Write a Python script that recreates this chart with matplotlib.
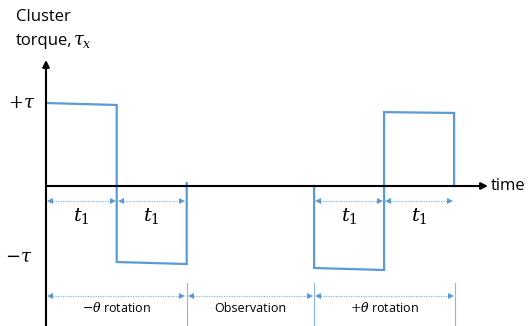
import matplotlib.pyplot as plt

plt.rcParams['font.family'] = ['Open Sans', 'DejaVu Sans']
plt.rcParams['mathtext.fontset'] = 'dejavuserif'

# waveform (time in units of t1, torque in units of tau)
pulse1_t = [0.0, 1.01, 1.01, 2.01, 2.01]
pulse1_v = [1.0, 0.976, -0.916, -0.94, 0.036]
pulse2_t = [3.83, 3.83, 4.83, 4.83, 5.83, 5.83]
pulse2_v = [0.0, -0.988, -1.012, 0.89, 0.88, 0.0]

# t1 span arrows
t1_spans = [(0.0, 1.01), (1.01, 2.01), (3.83, 4.83), (4.83, 5.83)]
# phase span arrows
phase_spans = [(0.0, 2.01), (2.01, 3.83), (3.83, 5.84)]
phase_labels = [r'$-\theta$ rotation', 'Observation', r'$+\theta$ rotation']
phase_marks = [2.01, 3.83, 5.84]

blue = '#5B9BD5'
light = '#8AB8E6'

fig = plt.figure(figsize=(5.32, 3.26), dpi=100)
ax = fig.add_axes([0, 0, 1, 1])
# 1 time unit = 70 px, 1 torque unit = 83 px, origin at (46, 186)
ax.set_xlim(-46 / 70, 486 / 70)
ax.set_ylim(-140 / 83, 186 / 83)
ax.axis('off')

# axes arrows
ax.annotate('', xy=(0, 126 / 83), xytext=(0, -140 / 83),
            arrowprops=dict(arrowstyle='-|>', color='black', lw=1.5,
                            mutation_scale=10, shrinkA=0, shrinkB=0))
ax.annotate('', xy=(442 / 70, 0), xytext=(0, 0),
            arrowprops=dict(arrowstyle='-|>', color='black', lw=1.5,
                            mutation_scale=10, shrinkA=0, shrinkB=0))
ax.text(445 / 70, 0, 'time', fontsize=12, va='center', ha='left')
ax.text(-30 / 70, 169 / 83, 'Cluster', fontsize=12, va='center', ha='left')
ax.text(-30 / 70, 145 / 83, 'torque,', fontsize=12, va='center', ha='left')
ax.text(27 / 70, 145 / 83, r'$\tau_x$', fontsize=13, va='center', ha='left')
ax.text(-24 / 70, 1.0, r'$+\tau$', fontsize=13, va='center', ha='center')
ax.text(-27 / 70, -71 / 83, r'$-\tau$', fontsize=13, va='center', ha='center')

# waveform
ax.plot(pulse1_t, pulse1_v, color=blue, lw=1.6, solid_joinstyle='miter')
ax.plot(pulse2_t, pulse2_v, color=blue, lw=1.6, solid_joinstyle='miter')


def span_arrow(x0, x1, y):
    pad = 0.06
    ax.plot([x0 + pad, x1 - pad], [y, y], color=light, lw=0.9, ls=(0, (1, 1)))
    ax.plot([x0 + pad], [y], marker='<', color=blue, ms=5, mew=0)
    ax.plot([x1 - pad], [y], marker='>', color=blue, ms=5, mew=0)


y_t1 = -15 / 83
for a, b in t1_spans:
    span_arrow(a, b, y_t1)
    ax.text((a + b) / 2, -30 / 83, '$t_1$', fontsize=14, ha='center', va='center')

y_ph = -110 / 83
for (a, b), lab in zip(phase_spans, phase_labels):
    span_arrow(a, b, y_ph)
    ax.text((a + b) / 2, -122 / 83, lab, fontsize=9, ha='center', va='center')

for m in phase_marks:
    ax.plot([m, m], [-97 / 83, -140 / 83], color=light, lw=0.8)

fig.savefig('out.png', dpi=100)
